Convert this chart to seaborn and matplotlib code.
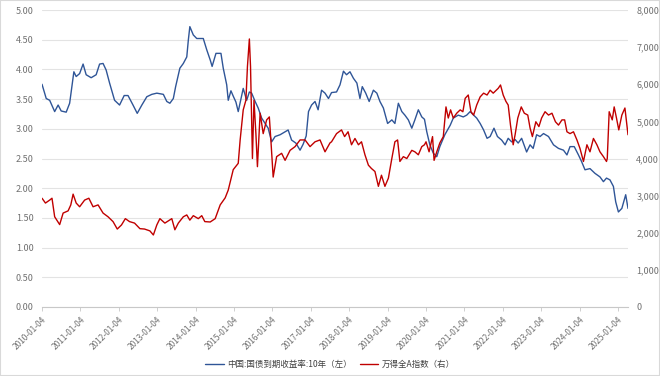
import numpy as np
import pandas as pd
import seaborn as sns
import matplotlib
matplotlib.use("Agg")
import matplotlib.pyplot as plt
from matplotlib.patches import Rectangle

# decimal-year positions, value at each
bond_t = [2010.00, 2010.11, 2010.20, 2010.33, 2010.42, 2010.50, 2010.63, 2010.72, 2010.83, 2010.89,
          2010.98, 2011.07, 2011.15, 2011.28, 2011.41, 2011.50, 2011.59, 2011.67, 2011.76, 2011.89,
          2012.02, 2012.14, 2012.24, 2012.37, 2012.48, 2012.60, 2012.73, 2012.86, 2012.99, 2013.16,
          2013.25, 2013.33, 2013.42, 2013.48, 2013.59, 2013.68, 2013.77, 2013.81, 2013.85, 2013.94,
          2014.03, 2014.11, 2014.20, 2014.29, 2014.38, 2014.43, 2014.53, 2014.66, 2014.72, 2014.81,
          2014.85, 2014.92, 2014.98, 2015.05, 2015.11, 2015.24, 2015.33, 2015.40, 2015.46, 2015.55,
          2015.63, 2015.72, 2015.81, 2015.89, 2015.98, 2016.07, 2016.20, 2016.33, 2016.41, 2016.50,
          2016.61, 2016.72, 2016.80, 2016.88, 2016.94, 2017.02, 2017.11, 2017.19, 2017.28, 2017.37,
          2017.46, 2017.54, 2017.67, 2017.76, 2017.85, 2017.93, 2018.02, 2018.11, 2018.20, 2018.28,
          2018.34, 2018.43, 2018.52, 2018.63, 2018.72, 2018.80, 2018.89, 2019.00, 2019.11, 2019.19,
          2019.28, 2019.37, 2019.45, 2019.54, 2019.63, 2019.71, 2019.80, 2019.89, 2019.96, 2020.02,
          2020.10, 2020.19, 2020.28, 2020.36, 2020.49, 2020.63, 2020.71, 2020.84, 2020.97, 2021.06,
          2021.15, 2021.24, 2021.32, 2021.41, 2021.50, 2021.59, 2021.67, 2021.77, 2021.86, 2021.97,
          2022.06, 2022.14, 2022.23, 2022.32, 2022.40, 2022.49, 2022.62, 2022.71, 2022.79, 2022.88,
          2022.97, 2023.06, 2023.19, 2023.32, 2023.45, 2023.58, 2023.67, 2023.75, 2023.86, 2023.97,
          2024.05, 2024.14, 2024.27, 2024.40, 2024.53, 2024.62, 2024.70, 2024.79, 2024.88, 2024.94,
          2025.01, 2025.10, 2025.20, 2025.26]
bond_yield = [3.75, 3.51, 3.48, 3.29, 3.40, 3.30, 3.28, 3.43, 3.96, 3.88,
              3.93, 4.09, 3.91, 3.86, 3.91, 4.09, 4.10, 3.99, 3.77, 3.48,
              3.40, 3.56, 3.56, 3.40, 3.26, 3.40, 3.54, 3.58, 3.60, 3.58,
              3.46, 3.43, 3.51, 3.71, 4.02, 4.10, 4.21, 4.49, 4.72, 4.58,
              4.52, 4.52, 4.52, 4.33, 4.16, 4.05, 4.27, 4.27, 4.02, 3.74,
              3.48, 3.64, 3.55, 3.45, 3.29, 3.68, 3.48, 3.62, 3.60, 3.46,
              3.35, 3.18, 3.09, 3.01, 2.78, 2.87, 2.90, 2.95, 2.98, 2.81,
              2.76, 2.64, 2.74, 2.88, 3.29, 3.40, 3.46, 3.32, 3.65, 3.60,
              3.51, 3.61, 3.62, 3.74, 3.97, 3.91, 3.96, 3.85, 3.77, 3.51,
              3.71, 3.60, 3.46, 3.65, 3.60, 3.46, 3.35, 3.09, 3.15, 3.09,
              3.43, 3.29, 3.23, 3.15, 3.01, 3.15, 3.32, 3.20, 3.16, 2.95,
              2.73, 2.59, 2.53, 2.70, 2.90, 3.06, 3.18, 3.23, 3.20, 3.23,
              3.29, 3.23, 3.18, 3.09, 2.98, 2.84, 2.87, 3.01, 2.87, 2.81,
              2.73, 2.84, 2.78, 2.82, 2.76, 2.84, 2.61, 2.73, 2.67, 2.90,
              2.87, 2.92, 2.87, 2.73, 2.67, 2.64, 2.56, 2.70, 2.70, 2.56,
              2.45, 2.31, 2.33, 2.25, 2.19, 2.11, 2.17, 2.14, 2.03, 1.77,
              1.60, 1.66, 1.89, 1.66]

index_t = [2010.00, 2010.09, 2010.20, 2010.26, 2010.33, 2010.46, 2010.55, 2010.68, 2010.75, 2010.81,
           2010.89, 2010.98, 2011.11, 2011.22, 2011.33, 2011.46, 2011.59, 2011.72, 2011.85, 2011.96,
           2012.07, 2012.17, 2012.28, 2012.41, 2012.55, 2012.67, 2012.81, 2012.90, 2012.99, 2013.07,
           2013.20, 2013.29, 2013.38, 2013.46, 2013.55, 2013.68, 2013.77, 2013.85, 2013.94, 2014.07,
           2014.16, 2014.24, 2014.38, 2014.51, 2014.64, 2014.77, 2014.85, 2014.98, 2015.11, 2015.16,
           2015.24, 2015.31, 2015.35, 2015.40, 2015.43, 2015.48, 2015.52, 2015.57, 2015.61, 2015.68,
           2015.76, 2015.85, 2015.92, 2015.96, 2016.02, 2016.11, 2016.24, 2016.33, 2016.46, 2016.59,
           2016.72, 2016.85, 2016.98, 2017.11, 2017.24, 2017.37, 2017.50, 2017.54, 2017.67, 2017.80,
           2017.88, 2017.97, 2018.06, 2018.15, 2018.24, 2018.32, 2018.41, 2018.50, 2018.58, 2018.67,
           2018.76, 2018.84, 2018.93, 2019.02, 2019.11, 2019.19, 2019.26, 2019.32, 2019.41, 2019.50,
           2019.63, 2019.71, 2019.80, 2019.89, 2019.96, 2020.00, 2020.08, 2020.17, 2020.21, 2020.28,
           2020.36, 2020.45, 2020.52, 2020.58, 2020.64, 2020.71, 2020.80, 2020.89, 2020.96, 2021.02,
           2021.10, 2021.17, 2021.24, 2021.32, 2021.41, 2021.50, 2021.59, 2021.67, 2021.75, 2021.88,
           2021.94, 2022.01, 2022.08, 2022.14, 2022.20, 2022.27, 2022.32, 2022.39, 2022.48, 2022.56,
           2022.65, 2022.71, 2022.77, 2022.86, 2022.94, 2023.01, 2023.10, 2023.19, 2023.28, 2023.37,
           2023.45, 2023.54, 2023.61, 2023.67, 2023.75, 2023.84, 2023.93, 2024.01, 2024.10, 2024.19,
           2024.27, 2024.36, 2024.45, 2024.53, 2024.62, 2024.70, 2024.72, 2024.77, 2024.85, 2024.90,
           2024.96, 2025.02, 2025.10, 2025.18, 2025.26]
wind_all_a = [2930, 2800, 2880, 2930, 2430, 2220, 2530, 2590, 2750, 3040,
              2800, 2700, 2880, 2930, 2700, 2750, 2530, 2430, 2300, 2100,
              2210, 2380, 2300, 2260, 2110, 2100, 2050, 1940, 2210, 2380,
              2260, 2320, 2380, 2080, 2260, 2430, 2480, 2340, 2460, 2380,
              2460, 2300, 2290, 2380, 2750, 2940, 3150, 3700, 3870, 4500,
              5310, 5570, 6480, 7220, 6480, 4000, 5570, 4670, 3780, 5220,
              4670, 5040, 5120, 4500, 3500, 4050, 4140, 3950, 4220, 4320,
              4500, 4500, 4320, 4450, 4500, 4180, 4420, 4450, 4670, 4770,
              4590, 4720, 4370, 4540, 4370, 4450, 4100, 3820, 3730, 3650,
              3250, 3550, 3250, 3470, 4000, 4450, 4500, 3920, 4050, 4000,
              4220, 4180, 4100, 4320, 4370, 4450, 4180, 4590, 3950, 4180,
              4420, 4590, 5390, 5090, 5310, 5090, 5220, 5310, 5260, 5620,
              5710, 5260, 5170, 5440, 5660, 5760, 5710, 5840, 5760, 5890,
              5980, 5710, 5540, 5440, 4900, 4370, 4640, 5090, 5390, 5220,
              5170, 4820, 4590, 4990, 4860, 5090, 5260, 5170, 5220, 4990,
              4900, 5040, 5040, 4720, 4670, 4720, 4500, 4270, 3920, 4370,
              4180, 4540, 4370, 4180, 4050, 3920, 4000, 5260, 5040, 5390,
              5090, 4770, 5170, 5360, 4640]

bond_label = "中国:国债到期收益率:10年（左）"
index_label = "万得全A指数（右）"
left_ticks = [0, 0.5, 1, 1.5, 2, 2.5, 3, 3.5, 4, 4.5, 5]
right_ticks = [0, 1000, 2000, 3000, 4000, 5000, 6000, 7000, 8000]
year_ticks = [f"{y}-01-04" for y in range(2010, 2026)]


def to_date(t):
    t = np.asarray(t)
    return pd.Timestamp("2010-01-04") + pd.to_timedelta((t - 2010) * 365.25, unit="D")


bond = pd.DataFrame({"date": to_date(bond_t), "v": bond_yield})
idx = pd.DataFrame({"date": to_date(index_t), "v": wind_all_a})

sns.set_theme(style="white")
plt.rcParams["font.family"] = ["Noto Sans CJK SC", "DejaVu Sans"]

BLUE = "#2f5597"
RED = "#c00000"
TICK = "#707070"

fig = plt.figure(figsize=(6.6, 3.76), dpi=100)
ax = fig.add_axes([42 / 660, 1 - 307 / 376, (628 - 42) / 660, (307 - 10) / 376])
ax2 = ax.twinx()

sns.lineplot(data=bond, x="date", y="v", ax=ax, color=BLUE, linewidth=1.0, label=bond_label, legend=False)
sns.lineplot(data=idx, x="date", y="v", ax=ax2, color=RED, linewidth=1.0, label=index_label, legend=False)

ax.set_ylim(0, 5)
ax2.set_ylim(0, 8000)
ax.set_yticks(left_ticks)
ax.set_yticklabels([f"{v:.2f}" for v in left_ticks])
ax2.set_yticks(right_ticks)
ax2.set_yticklabels([f"{v:,}" for v in right_ticks])

ax.set_xlim(bond["date"].iloc[0], bond["date"].iloc[-1])
ax.set_xticks(pd.to_datetime(year_ticks))
ax.set_xticklabels(year_ticks, rotation=45, ha="right", rotation_mode="anchor")

ax.set_xlabel("")
ax.set_ylabel("")
ax2.set_ylabel("")
ax.grid(axis="y", color="#e3e3e3", linewidth=0.8)
ax.set_axisbelow(True)

for a in (ax, ax2):
    for s in a.spines.values():
        s.set_visible(False)
ax.spines["bottom"].set_visible(True)
ax.spines["bottom"].set_color("#c8c8c8")
ax.spines["bottom"].set_linewidth(0.8)

ax.tick_params(axis="x", which="major", bottom=True, length=3, width=0.6, color="#c8c8c8",
               labelsize=6.0, labelcolor=TICK, pad=3)
ax.tick_params(axis="y", length=0, labelsize=6.5, labelcolor=TICK, pad=6)
ax2.tick_params(axis="y", length=0, labelsize=6.5, labelcolor=TICK, pad=6)

h1, l1 = ax.get_legend_handles_labels()
h2, l2 = ax2.get_legend_handles_labels()
fig.legend(h1 + h2, l1 + l2, loc="center", bbox_to_anchor=(0.5, 1 - 364 / 376), ncol=2,
           frameon=False, fontsize=6.1, handlelength=2.2, handletextpad=0.4, columnspacing=0.9,
           labelcolor="#404040")

fig.patches.append(Rectangle((0, 0), 1, 1, transform=fig.transFigure, fill=False,
                             edgecolor="#d9d9d9", linewidth=1.5))

fig.savefig("out.png", dpi=100)
